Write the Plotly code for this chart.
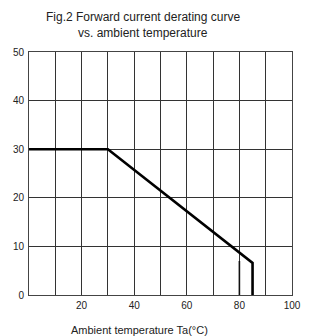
import plotly.graph_objects as go

# Derating curve: forward current (mA) vs ambient temperature (°C)
temp = [0, 30, 85, 85]
current = [30, 30, 6.6, 0]
# short extra marker line at 80 °C
temp_mark = [80, 80]
current_mark = [0, 7]

x_ticks = [0, 10, 20, 30, 40, 50, 60, 70, 80, 90, 100]
x_labels = ["", "", "20", "", "40", "", "60", "", "80", "", "100"]
y_ticks = [0, 10, 20, 30, 40, 50]
y_labels = ["0", "10", "20", "30", "40", "50"]

title_line1 = "Fig.2 Forward current derating curve"
title_line2 = "vs. ambient temperature"
x_title = "Ambient temperature Ta(°C)"

FONT = "Liberation Sans, Arial, sans-serif"

fig = go.Figure()
fig.add_trace(go.Scatter(x=temp_mark, y=current_mark, mode="lines",
                         line=dict(color="#111111", width=1.6), hoverinfo="skip"))
fig.add_trace(go.Scatter(x=temp, y=current, mode="lines",
                         line=dict(color="#000000", width=2.6), hoverinfo="skip"))

fig.update_layout(
    width=313, height=336,
    margin=dict(l=29, r=13, t=52, b=41),
    paper_bgcolor="white", plot_bgcolor="white",
    showlegend=False,
    font=dict(family=FONT, size=10, color="#222222"),
    annotations=[
        dict(text=title_line1, xref="paper", yref="paper", x=0.435, xanchor="center",
             y=1.0, yshift=35, yanchor="middle", showarrow=False,
             font=dict(family=FONT, size=12, color="#222222")),
        dict(text=title_line2, xref="paper", yref="paper", x=0.432, xanchor="center",
             y=1.0, yshift=19, yanchor="middle", showarrow=False,
             font=dict(family=FONT, size=12, color="#222222")),
        dict(text=x_title, xref="paper", yref="paper", x=0.42, xanchor="center",
             y=0, yshift=-35, yanchor="middle", showarrow=False,
             font=dict(family=FONT, size=11, color="#222222")),
    ],
)
fig.update_xaxes(range=[0, 100], tickvals=x_ticks, ticktext=x_labels,
                 showgrid=True, gridcolor="#333333", gridwidth=1,
                 showline=True, linecolor="#444444", linewidth=1, mirror=True,
                 zeroline=False, ticks="", ticklabelstandoff=1)
fig.update_yaxes(range=[0, 50], tickvals=y_ticks, ticktext=y_labels,
                 showgrid=True, gridcolor="#333333", gridwidth=1,
                 showline=True, linecolor="#444444", linewidth=1, mirror=True,
                 zeroline=False, ticks="", ticklabelstandoff=2)

fig.write_html("out.html", config={"displayModeBar": False},
               post_script="document.body.style.margin='0';document.body.style.padding='0';document.body.style.overflow='hidden';")
